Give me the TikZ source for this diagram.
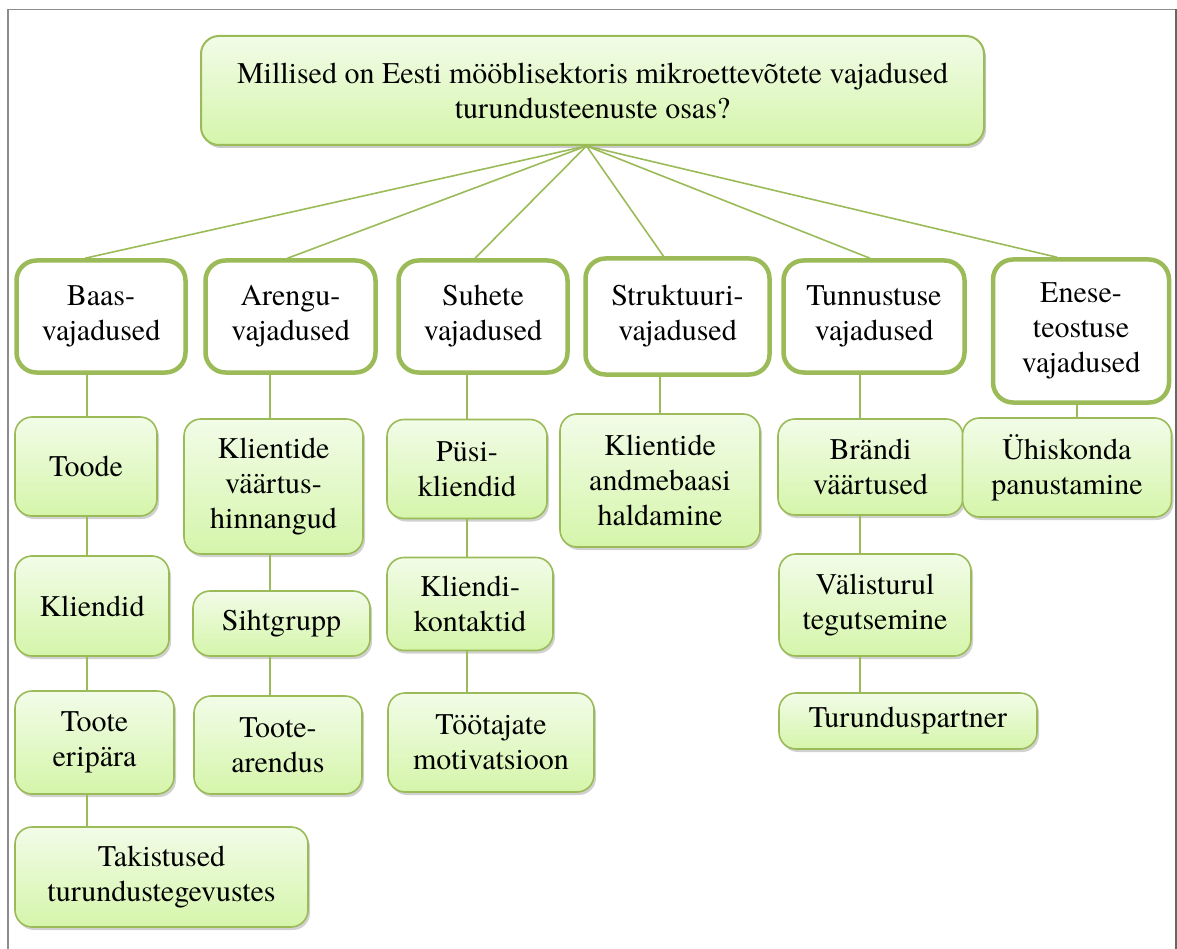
\documentclass[tikz,border=0pt]{standalone}
\usepackage{fontspec}
\setmainfont{texgyretermes}[Extension=.otf, UprightFont=*-regular, BoldFont=*-bold]
\usepackage{tikz}
\usetikzlibrary{shapes,positioning,shadows}

\definecolor{leafgreen}{HTML}{9BBB59}
\definecolor{palegreen}{HTML}{F2FCE8}
\definecolor{limegreen}{HTML}{D5F5AA}

\begin{document}
\begin{tikzpicture}[
  x=1pt, y=-1pt,
  every node/.style={font=\rmfamily\fontsize{30}{35}\selectfont, align=center, inner sep=0pt},
  question/.style={rectangle, draw=leafgreen, line width=2pt, rounded corners=18pt, top color=palegreen, bottom color=limegreen, drop shadow={shadow xshift=2pt, shadow yshift=-3pt, opacity=0.35, fill=black!60}},
  need/.style={rectangle, draw=leafgreen, line width=4.5pt, rounded corners=20pt, fill=white},
  item/.style={rectangle, draw=leafgreen, line width=1.6pt, rounded corners=17pt, top color=palegreen, bottom color=limegreen, drop shadow={shadow xshift=2pt, shadow yshift=-3pt, opacity=0.3, fill=black!60}},
  link/.style={draw=leafgreen, line width=1.6pt}
]
\useasboundingbox (0,0) rectangle (1177,949);

% Frame
\draw[gray!90, line width=1.2pt] (8,949) -- (8,9.5) -- (1176,9.5);
\draw[black!60, line width=2.2pt] (1176,9.5) -- (1176,949);

% Question
\node[question, minimum width=783, minimum height=109] (root) at (592.5,90.5) {Millised on Eesti mööblisektoris mikroettevõtete vajadused\\turundusteenuste osas?};

% Need groups
\node[need, minimum width=169, minimum height=112] (baas) at (101,316.5) {Baas-\\vajadused};
\node[need, minimum width=170, minimum height=112] (arengu) at (290.5,316.5) {Arengu-\\vajadused};
\node[need, minimum width=169, minimum height=112] (suhete) at (483,316.5) {Suhete\\vajadused};
\node[need, minimum width=184, minimum height=116] (struktuuri) at (677.5,316.5) {Struktuuri-\\vajadused};
\node[need, minimum width=181, minimum height=112] (tunnustuse) at (874,316.5) {Tunnustuse\\vajadused};
\node[need, minimum width=176, minimum height=143] (enese) at (1081,331) {Enese-\\teostuse\\vajadused};

% Items
\node[item, minimum width=142, minimum height=99] (toode) at (86,466.5) {Toode};
\node[item, minimum width=154, minimum height=100] (kliendid) at (92,606) {Kliendid};
\node[item, minimum width=159, minimum height=103] (eripara) at (94.5,742.5) {Toote\\eripära};
\node[item, minimum width=293, minimum height=100] (takistused) at (161.5,877) {Takistused\\turundustegevustes};

\node[item, minimum width=179, minimum height=135] (vaartus) at (273.5,486.5) {Klientide\\väärtus-\\hinnangud};
\node[item, minimum width=177, minimum height=65] (sihtgrupp) at (281.5,623.5) {Sihtgrupp};
\node[item, minimum width=168, minimum height=98] (arendus) at (278,745) {Toote-\\arendus};

\node[item, minimum width=160, minimum height=99] (pusi) at (467,469) {Püsi-\\kliendid};
\node[item, minimum width=166, minimum height=93] (kontaktid) at (470,604) {Kliendi-\\kontaktid};
\node[item, minimum width=206, minimum height=99] (tootajad) at (491,742.5) {Töötajate\\motivatsioon};

\node[item, minimum width=200, minimum height=133] (andmebaas) at (660,480.5) {Klientide\\andmebaasi\\haldamine};

\node[item, minimum width=185, minimum height=96] (brandi) at (870.5,467) {Brändi\\väärtused};
\node[item, minimum width=192, minimum height=102] (valisturg) at (875,605) {Välisturul\\tegutsemine};
\node[item, minimum width=258, minimum height=56] (partner) at (908,721) {Turunduspartner};

\node[item, minimum width=209, minimum height=99] (uhiskond) at (1067,467.5) {Ühiskonda\\panustamine};

% Column lines
\coordinate (colA) at (87,0);
\coordinate (colB) at (270,0);
\coordinate (colC) at (467,0);
\coordinate (colD) at (660,0);
\coordinate (colE) at (860,0);
\coordinate (colF) at (1077,0);

% Question to needs
\draw[link] ([xshift=-6pt]root.south) -- ([xshift=-16pt]baas.north);
\draw[link] ([xshift=-6pt]root.south) -- ([xshift=-3pt]arengu.north);
\draw[link] ([xshift=-6pt]root.south) -- ([xshift=-8pt]suhete.north);
\draw[link] ([xshift=-6pt]root.south) -- ([xshift=-14pt]struktuuri.north);
\draw[link] ([xshift=-6pt]root.south) -- ([xshift=-4pt]tunnustuse.north);
\draw[link] ([xshift=-6pt]root.south) -- ([xshift=-24pt]enese.north);

% Needs to items
\draw[link] (colA |- baas.south) -- (colA |- toode.north);
\draw[link] (colA |- toode.south) -- (colA |- kliendid.north);
\draw[link] (colA |- kliendid.south) -- (colA |- eripara.north);
\draw[link] (colA |- eripara.south) -- (colA |- takistused.north);

\draw[link] (colB |- arengu.south) -- (colB |- vaartus.north);
\draw[link] (colB |- vaartus.south) -- (colB |- sihtgrupp.north);
\draw[link] (colB |- sihtgrupp.south) -- (colB |- arendus.north);

\draw[link] (colC |- suhete.south) -- (colC |- pusi.north);
\draw[link] (colC |- pusi.south) -- (colC |- kontaktid.north);
\draw[link] (colC |- kontaktid.south) -- (colC |- tootajad.north);

\draw[link] (colD |- struktuuri.south) -- (colD |- andmebaas.north);

\draw[link] (colE |- tunnustuse.south) -- (colE |- brandi.north);
\draw[link] (colE |- brandi.south) -- (colE |- valisturg.north);
\draw[link] (colE |- valisturg.south) -- (colE |- partner.north);

\draw[link] (colF |- enese.south) -- (colF |- uhiskond.north);
\end{tikzpicture}
\end{document}
